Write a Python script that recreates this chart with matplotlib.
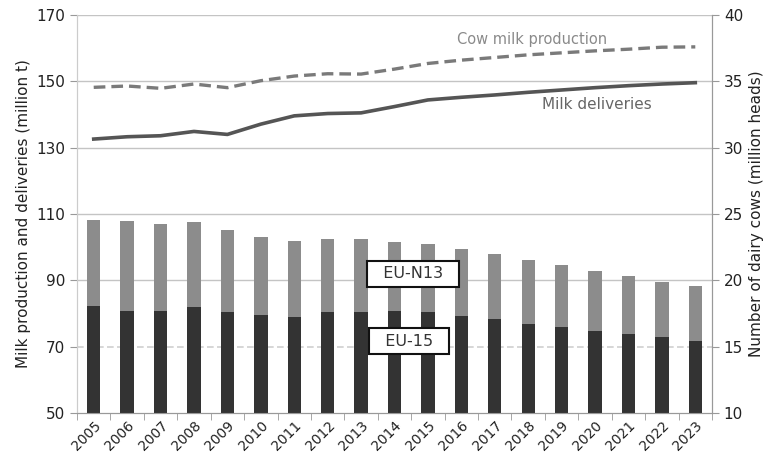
import numpy as np
import matplotlib
matplotlib.use("Agg")
import matplotlib.pyplot as plt

years = [str(y) for y in range(2005, 2024)]

# dairy cows, million heads (right axis)
cows_total = [24.54, 24.49, 24.24, 24.42, 23.8, 23.29, 22.99, 23.09, 23.09, 22.9,
              22.75, 22.33, 21.96, 21.53, 21.15, 20.72, 20.32, 19.9, 19.57]
cows_eu15 = [18.06, 17.69, 17.69, 17.96, 17.63, 17.38, 17.26, 17.63, 17.63, 17.69,
             17.63, 17.31, 17.06, 16.68, 16.5, 16.2, 15.93, 15.75, 15.43]
cows_n13 = [t - e for t, e in zip(cows_total, cows_eu15)]

# milk, million t (left axis)
cow_milk_prod = [148.2, 148.6, 147.9, 149.2, 148.1, 150.2, 151.6, 152.3, 152.2, 153.7,
                 155.4, 156.4, 157.2, 158.0, 158.6, 159.2, 159.7, 160.3, 160.4]
milk_deliv = [132.6, 133.3, 133.6, 134.9, 134.0, 137.1, 139.6, 140.3, 140.5, 142.4,
              144.4, 145.2, 145.9, 146.7, 147.4, 148.1, 148.7, 149.2, 149.6]

fig = plt.figure(figsize=(7.67, 4.70), dpi=100)
ax = fig.add_axes([0.1004, 0.1213, 0.8279, 0.8467])
ax2 = ax.twinx()

x = np.arange(len(years))

ax.set_ylim(50, 170)
ax.set_yticks(range(50, 171, 20))
ax.set_xlim(-0.5, len(years) - 0.5)
# horizontal grid, the lowest one drawn fainter like in the source
for yv in (90, 110, 130, 150, 170):
    ax.axhline(yv, color="#c4c4c4", linewidth=1, zorder=0)
ax.axhline(70, color="#cfcfcf", linewidth=1.2, linestyle=(0, (4, 2)), zorder=0)

ax.plot(x, cow_milk_prod, color="#7a7a7a", linewidth=2.4, linestyle=(0, (3.5, 1.8)))
ax.plot(x, milk_deliv, color="#555555", linewidth=2.6)

ax2.set_ylim(10, 40)
ax2.set_yticks(range(10, 41, 5))
ax2.bar(x, cows_eu15, width=0.4, bottom=0, color="#333333", zorder=2)
ax2.bar(x, cows_n13, width=0.4, bottom=cows_eu15, color="#8c8c8c", zorder=2)

ax.set_xticks(x)
ax.set_xticklabels(years, rotation=45, ha="right", rotation_mode="anchor", fontsize=10, color="#222222")
ax.set_xticks(np.arange(-0.5, len(years), 1), minor=True)
ax.tick_params(axis="x", which="major", length=0, pad=4)
ax.tick_params(axis="x", which="minor", length=5, color="#999999")
ax.tick_params(axis="y", labelsize=11, colors="#222222", length=5)
ax.tick_params(axis="y", color="#999999")
ax2.tick_params(axis="y", labelsize=11, colors="#222222", length=5)
ax2.tick_params(axis="y", color="#999999")

for a in (ax, ax2):
    a.spines["top"].set_visible(False)
    a.spines["left"].set_color("#cccccc")
    a.spines["right"].set_color("#999999")
    a.spines["bottom"].set_color("#999999")

ax.set_ylabel("Milk production and deliveries (million t)", fontsize=11, color="#222222", labelpad=4)
ax2.set_ylabel("Number of dairy cows (million heads)", fontsize=11, color="#222222", labelpad=4)

ax.text(13.13, 162.5, "Cow milk production", ha="center", va="center", fontsize=10.5, color="#8a8a8a")
ax.text(15.05, 142.9, "Milk deliveries", ha="center", va="center", fontsize=11, color="#666666")

box = dict(boxstyle="square,pad=0.35", facecolor="white", edgecolor="#111111", linewidth=1.5)
ax2.text(9.56, 20.48, "  EU-N13  ", ha="center", va="center", fontsize=11.5, color="#333333", bbox=box, zorder=5)
ax2.text(9.44, 15.4, "  EU-15  ", ha="center", va="center", fontsize=11.5, color="#333333", bbox=box, zorder=5)

fig.savefig("out.png", dpi=100)
